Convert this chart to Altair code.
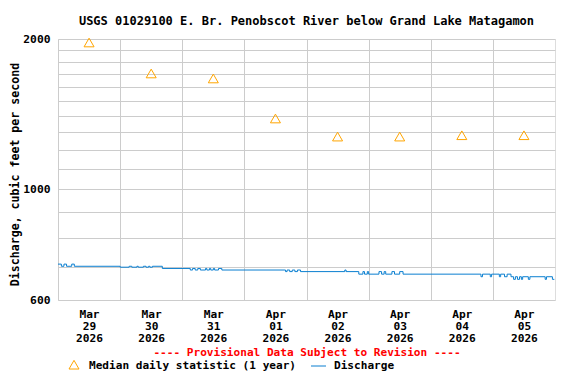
import json
import altair as alt
import pandas as pd

# ---------------- data ----------------
chart_title = "USGS 01029100 E. Br. Penobscot River below Grand Lake Matagamon"
y_title = "Discharge, cubic feet per second"
provisional = "---- Provisional Data Subject to Revision ----"
legend_median = "Median daily statistic (1 year)"
legend_q = "Discharge"

day_months = ["Mar", "Mar", "Mar", "Apr", "Apr", "Apr", "Apr", "Apr"]
day_nums = ["29", "30", "31", "01", "02", "03", "04", "05"]
day_years = ["2026"] * 8
day_starts = [0, 24, 48, 72, 96, 120, 144, 168]  # hours since Mar 29 00:00

y_grid = [600, 700, 800, 900, 1000, 1100, 1200, 1300, 1400, 1500,
          1600, 1700, 1800, 1900, 2000]
y_labeled = [600, 1000, 2000]

# median daily statistic, plotted at noon of each day
median_hours = [12, 36, 60, 84, 108, 132, 156, 180]
median_cfs = [1968, 1706, 1667, 1386, 1275, 1275, 1283, 1283]

# discharge (step changes, hours since Mar 29 00:00)
q_hours = [0, 1.3, 2.3, 3.3, 5.3, 6.3,
           24, 27.5, 28.5, 30.5, 31, 33, 34, 35, 35.5, 36.5, 40.3,
           51.1, 52, 53, 54, 55, 57, 57.5, 58.5, 59, 60, 60.5, 62, 63.3,
           87.9, 88.5, 89.5, 90.5, 91.5, 92.5, 93.7,
           110.8, 111.3,
           116.2, 117.8, 118.4, 119.5, 120, 124, 125, 126, 126.6, 129, 130, 132, 133.3,
           163.4, 164, 167, 167.5, 170.5, 171, 172.5, 173.5, 175,
           176, 176.7, 177.5, 178.3, 179, 179.5, 181.7, 182.3,
           188.2, 188.7, 191, 191.75]
q_cfs = [708, 701, 708, 701, 708, 701,
         698, 701, 698, 701, 698, 701, 698, 701, 698, 701, 694,
         689, 694, 689, 694, 689, 694, 689, 694, 689, 694, 689, 694, 689,
         684, 689, 684, 689, 684, 689, 684,
         689, 684,
         676, 684, 676, 684, 676, 684, 676, 684, 676, 684, 676, 684, 676,
         668, 676, 668, 676, 668, 676, 668, 676, 668,
         660, 668, 660, 668, 660, 668, 660, 668,
         660, 668, 660, 660]

# ---------------- styling ----------------
FONT = "DejaVu Sans Mono"
BLUE = "#0a7fd0"
ORANGE = "#ffa500"
W, H = 497, 261

q_df = pd.DataFrame({"hour": q_hours, "cfs": q_cfs})
med_df = pd.DataFrame({"hour": median_hours, "cfs": median_cfs})

label_arr = json.dumps([[m, d, y] for m, d, y in zip(day_months, day_nums, day_years)])

x_scale = alt.Scale(domain=[0, 192], nice=False, zero=False)
y_scale = alt.Scale(type="log", domain=[600, 2000], nice=False)

x_axis = alt.Axis(
    values=day_starts, title=None, grid=True, ticks=False, domain=False,
    labelOffset=31, labelPadding=8, labelBaseline="top",
    labelExpr=f"{label_arr}[round(datum.value/24)]",
    labelLineHeight=12.3, labelFont=FONT, labelFontWeight="bold", labelFontSize=11.2,
    labelColor="black", gridColor="#cccccc", labelFlush=False, labelOverlap=False,
)
y_axis = alt.Axis(
    values=y_grid, title=y_title, grid=True, ticks=False, domain=False,
    labelExpr=f"indexof({json.dumps(y_labeled)}, datum.value) >= 0 ? format(datum.value, 'd') : ''",
    labelPadding=8, labelFont=FONT, labelFontWeight="bold", labelFontSize=11.3,
    labelColor="black", titleFont=FONT, titleFontWeight="bold", titleFontSize=11.6,
    titleColor="black", titleX=-40, titleY=135, titleBaseline="alphabetic",
    titleAlign="center", titleAngle=270,
    gridColor="#cccccc", labelOverlap=False, labelFlush=False,
)

line = alt.Chart(q_df).mark_line(interpolate="step-after", color=BLUE, strokeWidth=1, clip=True).encode(
    x=alt.X("hour:Q", scale=x_scale, axis=x_axis),
    y=alt.Y("cfs:Q", scale=y_scale, axis=y_axis),
)
pts = alt.Chart(med_df).mark_point(shape="triangle-up", filled=False, color=ORANGE,
                                   size=100, strokeWidth=1, opacity=1).encode(
    x=alt.X("hour:Q", scale=x_scale),
    y=alt.Y("cfs:Q", scale=y_scale),
)

one = pd.DataFrame({"k": [0]})
ttl = alt.Chart(one).mark_text(font=FONT, fontWeight="bold", fontSize=12, color="black",
                               align="center", baseline="middle").encode(
    x=alt.value(W / 2), y=alt.value(-18.5), text=alt.value(chart_title))
prov = alt.Chart(one).mark_text(font=FONT, fontWeight="bold", fontSize=11.1, color="#ff0000",
                                align="center", baseline="middle").encode(
    x=alt.value(W / 2 + 0.5), y=alt.value(H + 52.8), text=alt.value(provisional))
leg_sym = alt.Chart(one).mark_point(shape="triangle-up", filled=False, color=ORANGE,
                                    size=100, strokeWidth=1, opacity=1).encode(
    x=alt.value(16), y=alt.value(H + 64.7))
leg_t1 = alt.Chart(one).mark_text(font=FONT, fontWeight="bold", fontSize=11.1, color="black",
                                  align="left", baseline="middle").encode(
    x=alt.value(31), y=alt.value(H + 65.8), text=alt.value(legend_median))
leg_line = alt.Chart(one).mark_rule(color=BLUE, strokeWidth=1).encode(
    x=alt.value(253), x2=alt.value(268), y=alt.value(H + 66))
leg_t2 = alt.Chart(one).mark_text(font=FONT, fontWeight="bold", fontSize=11.1, color="black",
                                  align="left", baseline="middle").encode(
    x=alt.value(276), y=alt.value(H + 65.8), text=alt.value(legend_q))

chart = alt.layer(line, pts, ttl, prov, leg_sym, leg_t1, leg_line, leg_t2).properties(
    width=W, height=H,
    autosize=alt.AutoSizeParams(type="none"),
    padding={"left": 50, "top": 31, "right": 13, "bottom": 72},
).configure_view(stroke="black", strokeWidth=1).configure(background="white")

chart.save("out.html", embed_options={"renderer": "svg", "actions": False})
